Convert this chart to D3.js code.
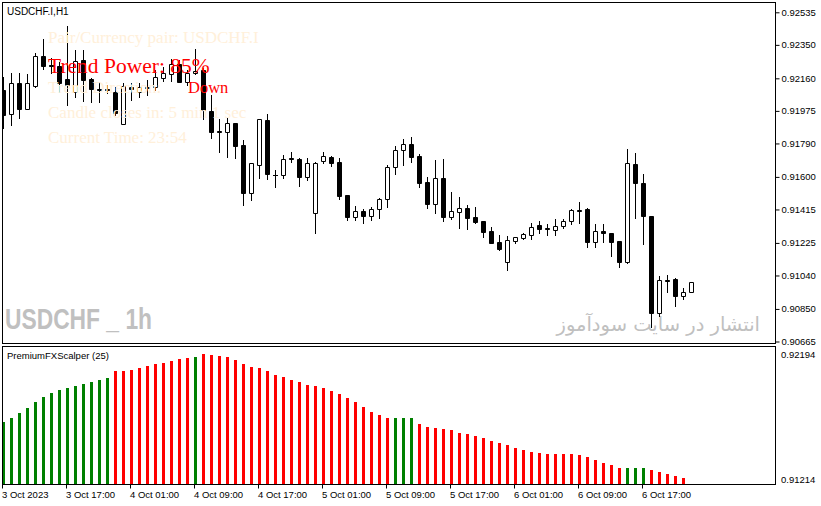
<!DOCTYPE html>
<html><head><meta charset="utf-8">
<script src="https://cdn.jsdelivr.net/npm/d3@7"></script>
<style>html,body{margin:0;padding:0;background:#fff;} svg{display:block}</style>
</head><body><svg id="c" width="821" height="506"></svg>
<script>
// ---------- DATA ----------
const times = [
"10.03 09:00","10.03 10:00","10.03 11:00","10.03 12:00","10.03 13:00","10.03 14:00","10.03 15:00","10.03 16:00","10.03 17:00","10.03 18:00","10.03 19:00","10.03 20:00","10.03 21:00","10.03 22:00","10.03 23:00",
"10.04 00:00","10.04 01:00","10.04 02:00","10.04 03:00","10.04 04:00","10.04 05:00","10.04 06:00","10.04 07:00","10.04 08:00","10.04 09:00","10.04 10:00","10.04 11:00","10.04 12:00","10.04 13:00","10.04 14:00","10.04 15:00","10.04 16:00","10.04 17:00","10.04 18:00","10.04 19:00","10.04 20:00","10.04 21:00","10.04 22:00","10.04 23:00",
"10.05 00:00","10.05 01:00","10.05 02:00","10.05 03:00","10.05 04:00","10.05 05:00","10.05 06:00","10.05 07:00","10.05 08:00","10.05 09:00","10.05 10:00","10.05 11:00","10.05 12:00","10.05 13:00","10.05 14:00","10.05 15:00","10.05 16:00","10.05 17:00","10.05 18:00","10.05 19:00","10.05 20:00","10.05 21:00","10.05 22:00","10.05 23:00",
"10.06 00:00","10.06 01:00","10.06 02:00","10.06 03:00","10.06 04:00","10.06 05:00","10.06 06:00","10.06 07:00","10.06 08:00","10.06 09:00","10.06 10:00","10.06 11:00","10.06 12:00","10.06 13:00","10.06 14:00","10.06 15:00","10.06 16:00","10.06 17:00","10.06 18:00","10.06 19:00","10.06 20:00","10.06 21:00","10.06 22:00","10.06 23:00"
];
const open = [0.92094,0.91958,0.92134,0.91986,0.92117,0.92287,0.92236,0.92230,0.92156,0.92083,
0.92264,0.92156,0.92100,0.92100,0.92083,0.91901,0.92111,0.92083,0.92111,0.92111,
0.92162,0.92185,0.92242,0.92139,0.92190,0.92207,0.91975,0.91861,0.91855,0.91906,
0.91781,0.91509,0.91668,0.91923,0.91611,0.91611,0.91708,0.91702,0.91600,0.91395,
0.91691,0.91713,0.91685,0.91497,0.91372,0.91407,0.91378,0.91418,0.91475,0.91656,
0.91753,0.91787,0.91719,0.91571,0.91446,0.91594,0.91372,0.91401,0.91424,0.91372,
0.91350,0.91293,0.91230,0.91117,0.91236,0.91253,0.91270,0.91327,0.91310,0.91299,
0.91321,0.91350,0.91412,0.91418,0.91230,0.91293,0.91282,0.91236,0.91117,0.91674,
0.91566,0.91378,0.90827,0.91015,0.91020,0.90924,0.90946];
const high = [0.92168,0.92190,0.92190,0.92185,0.92304,0.92384,0.92276,0.92253,0.92457,0.92321,
0.92321,0.92162,0.92139,0.92122,0.92111,0.92134,0.92134,0.92134,0.92151,0.92207,
0.92224,0.92270,0.92264,0.92207,0.92327,0.92219,0.92065,0.91929,0.91935,0.91906,
0.91810,0.91679,0.91929,0.91958,0.91639,0.91725,0.91742,0.91708,0.91708,0.91685,
0.91742,0.91719,0.91708,0.91497,0.91435,0.91418,0.91429,0.91480,0.91668,0.91776,
0.91816,0.91827,0.91730,0.91600,0.91696,0.91702,0.91514,0.91486,0.91441,0.91429,
0.91350,0.91316,0.91270,0.91265,0.91259,0.91282,0.91338,0.91350,0.91333,0.91361,
0.91361,0.91418,0.91458,0.91424,0.91333,0.91333,0.91282,0.91236,0.91759,0.91736,
0.91617,0.91378,0.91037,0.91043,0.91026,0.90969,0.91003];
const low = [0.91878,0.91895,0.91935,0.91986,0.92111,0.92213,0.92190,0.92083,0.92009,0.92054,
0.92031,0.92026,0.92026,0.92077,0.91952,0.91901,0.92037,0.92054,0.92065,0.92094,
0.92145,0.92145,0.92139,0.92122,0.92185,0.91929,0.91821,0.91742,0.91713,0.91708,
0.91441,0.91469,0.91594,0.91588,0.91543,0.91594,0.91685,0.91549,0.91583,0.91282,
0.91679,0.91662,0.91475,0.91355,0.91355,0.91338,0.91355,0.91367,0.91429,0.91617,
0.91668,0.91685,0.91543,0.91424,0.91395,0.91350,0.91361,0.91310,0.91304,0.91338,
0.91259,0.91225,0.91185,0.91071,0.91225,0.91248,0.91248,0.91282,0.91270,0.91270,
0.91310,0.91333,0.91338,0.91202,0.91202,0.91230,0.91151,0.91088,0.91111,0.91367,
0.91219,0.90748,0.90810,0.90946,0.90867,0.90907,0.90946];
const close = [0.91952,0.92134,0.91986,0.92134,0.92287,0.92230,0.92230,0.92134,0.92122,0.92259,
0.92151,0.92100,0.92094,0.92094,0.91963,0.92117,0.92100,0.92111,0.92105,0.92168,
0.92190,0.92242,0.92139,0.92190,0.92202,0.91980,0.91855,0.91855,0.91906,0.91776,
0.91509,0.91679,0.91929,0.91617,0.91608,0.91702,0.91702,0.91600,0.91679,0.91679,
0.91719,0.91679,0.91492,0.91372,0.91407,0.91378,0.91418,0.91475,0.91656,0.91753,
0.91787,0.91713,0.91566,0.91446,0.91594,0.91372,0.91407,0.91424,0.91367,0.91344,
0.91287,0.91225,0.91191,0.91242,0.91259,0.91276,0.91316,0.91304,0.91304,0.91321,
0.91350,0.91412,0.91407,0.91230,0.91293,0.91282,0.91230,0.91117,0.91679,0.91566,
0.91378,0.90827,0.91015,0.91009,0.90924,0.90946,0.91003];
const scalper = [0.91663,0.91695,0.91734,0.91773,0.91820,0.91857,0.91891,0.91912,0.91930,0.91946,
0.91961,0.91977,0.91990,0.92006,0.92061,0.92061,0.92069,0.92087,0.92102,0.92113,
0.92126,0.92141,0.92155,0.92163,0.92173,0.92194,0.92189,0.92181,0.92173,0.92147,
0.92116,0.92094,0.92084,0.92061,0.92032,0.92014,0.91990,0.91975,0.91953,0.91943,
0.91925,0.91904,0.91883,0.91851,0.91820,0.91781,0.91742,0.91716,0.91692,0.91692,
0.91692,0.91692,0.91645,0.91624,0.91614,0.91606,0.91601,0.91575,0.91569,0.91554,
0.91535,0.91514,0.91496,0.91481,0.91459,0.91444,0.91428,0.91418,0.91410,0.91410,
0.91410,0.91410,0.91402,0.91387,0.91365,0.91342,0.91324,0.91303,0.91303,0.91303,
0.91303,0.91287,0.91269,0.91253,0.91238,0.91224];
const scalperTrend = [
"up","up","up","up","up","up","up","up","up","up","up","up","up","up",
"down","down","down","down","down","down","down","down","down","down",
"up",
"down","down","down","down","down","down","down","down","down","down","down","down","down","down","down","down","down","down","down","down","down","down","down","down",
"up","up","up",
"down","down","down","down","down","down","down","down","down","down","down","down","down","down","down","down","down","down","down","down","down","down","down","down","down","down",
"up","up","up",
"down","down","down","down","down"];
const priceTicks = [0.92535,0.92350,0.92160,0.91975,0.91790,0.91600,0.91415,0.91225,0.91040,0.90850,0.90665];
const scalperTicks = [0.92194,0.91214];
const timeTicks = ["10.03 09:00","10.03 17:00","10.04 01:00","10.04 09:00","10.04 17:00","10.05 01:00","10.05 09:00","10.05 17:00","10.06 01:00","10.06 09:00","10.06 17:00"];
const timeTickLabels = ["3 Oct 2023","3 Oct 17:00","4 Oct 01:00","4 Oct 09:00","4 Oct 17:00","5 Oct 01:00","5 Oct 09:00","5 Oct 17:00","6 Oct 01:00","6 Oct 09:00","6 Oct 17:00"];
const symbolTitle = "USDCHF.I,H1";
const indicatorTitle = "PremiumFXScalper (25)";
const infoLines = ["Pair/Currency pair: USDCHF.I","Trend Direction:","Candle closes in: 5 min 1 sec","Current Time: 23:54"];
const trendPower = "Trend Power: 85%";
const trendDir = "Down";
const watermark = "USDCHF _ 1h";
const siteText = "انتشار در سایت سودآموز";

// ---------- DRAW ----------
const svg = d3.select("#c");
svg.append("rect").attr("width",821).attr("height",506).attr("fill","#fff");
const small = "'Liberation Sans', Arial, sans-serif";
const serif = "'Liberation Serif', 'Times New Roman', serif";

const x = d3.scaleBand().domain(times).range([-1, -1 + 8*times.length]);
const cx = t => Math.round(x(t) + x.bandwidth()/2);
const y = d3.scaleLinear().domain([0.90665, 0.92535]).range([341.5, 12.3]);
const ys = d3.scaleLinear().domain([0.91214, 0.92194]).range([479, 354]);

svg.append("clipPath").attr("id","mainClip").append("rect").attr("x",3).attr("y",3).attr("width",772).attr("height",340);
svg.append("clipPath").attr("id","subClip").append("rect").attr("x",3).attr("y",347).attr("width",772).attr("height",137);

// watermark texts (behind)
svg.append("text").attr("x",5).attr("y",328.5).attr("font-family","'Liberation Sans Narrow','Liberation Sans',Arial,sans-serif")
  .attr("font-weight","bold").attr("font-size",29).attr("fill","#c0c0c0")
  .attr("textLength",147).attr("lengthAdjust","spacingAndGlyphs").text(watermark);
svg.append("text").attr("x",760).attr("y",331).attr("text-anchor","end").attr("font-family","'DejaVu Sans',sans-serif")
  .attr("font-size",19.5).attr("fill","#c0c0c0").text(siteText);

// candles
const candles = svg.append("g").attr("clip-path","url(#mainClip)");
times.forEach((t,i)=>{
  const c = cx(t);
  candles.append("line").attr("x1",c+0.5).attr("x2",c+0.5)
    .attr("y1",Math.round(y(high[i]))).attr("y2",Math.round(y(low[i]))+1)
    .attr("stroke","#000").attr("stroke-width",1);
  const yo = Math.round(y(open[i])), yc = Math.round(y(close[i]));
  const top = Math.min(yo,yc)+0.5, bot = Math.max(yo,yc)+0.5;
  const bull = close[i] >= open[i];
  if (bot - top < 1) {
    candles.append("line").attr("x1",c-2).attr("x2",c+3).attr("y1",top).attr("y2",top).attr("stroke","#000");
  } else {
    candles.append("path").attr("d",`M${c-1.5},${top}H${c+2.5}V${bot}H${c-1.5}Z`)
      .attr("fill", bull ? "#fff" : "#000").attr("stroke","#000").attr("stroke-width",1);
  }
});

// histogram
const hist = svg.append("g").attr("clip-path","url(#subClip)");
scalper.forEach((v,i)=>{
  const c = cx(times[i]);
  const top = Math.round(ys(v));
  hist.append("rect").attr("x",c-1).attr("width",3).attr("y",top).attr("height",485-top)
    .attr("fill", scalperTrend[i]==="up" ? "#008000" : "#ff0000");
});

// frames
svg.append("rect").attr("x",2.5).attr("y",2.5).attr("width",773).attr("height",341).attr("fill","none").attr("stroke","#000");
svg.append("rect").attr("x",2.5).attr("y",346.5).attr("width",773).attr("height",138).attr("fill","none").attr("stroke","#000");

// right price axis
const ax = svg.append("g").attr("transform","translate(775.5,0)")
  .call(d3.axisRight(y).tickValues(priceTicks).tickFormat(d3.format(".5f")).tickSize(4).tickPadding(2));
ax.select(".domain").remove();
ax.selectAll("text").attr("font-family",small).attr("font-size",9.5).attr("fill","#000");
ax.selectAll("line").attr("stroke","#000");

// sub-window labels
svg.append("g").selectAll("text").data(scalperTicks).join("text")
  .attr("x",781).attr("y",d=>ys(d)+3.5).attr("font-family",small).attr("font-size",9.5).attr("fill","#000")
  .text(d=>d3.format(".5f")(d));

// bottom time axis
const bx = svg.append("g").attr("transform","translate(0,484.5)")
  .call(d3.axisBottom(x).tickValues(timeTicks).tickFormat((d,i)=>timeTickLabels[i]).tickSize(4).tickPadding(3));
bx.select(".domain").remove();
bx.selectAll("text").attr("text-anchor","start").attr("font-family",small).attr("font-size",9.5).attr("fill","#000").attr("dx",-0.5);
bx.selectAll(".tick").attr("transform",d=>`translate(${cx(d)-0.5},0)`);

// titles
svg.append("text").attr("x",7).attr("y",14.5).attr("font-family",small).attr("font-size",10).attr("fill","#000").text(symbolTitle);
svg.append("text").attr("x",7).attr("y",359).attr("font-family",small).attr("font-size",9.5).attr("fill","#000").text(indicatorTitle);

// info overlay
const infoY = [43, 93, 118, 143];
infoLines.forEach((s,i)=>{
  svg.append("text").attr("x",48).attr("y",infoY[i]).attr("font-family",serif).attr("font-size",17).attr("fill","#fff0da").text(s);
});
svg.append("text").attr("x",48).attr("y",72.5).attr("font-family",serif).attr("font-size",21.5).attr("fill","#ff0000").text(trendPower);
svg.append("text").attr("x",188).attr("y",93).attr("font-family",serif).attr("font-size",16.5).attr("fill","#ff0000").text(trendDir);
</script>
</body></html>
